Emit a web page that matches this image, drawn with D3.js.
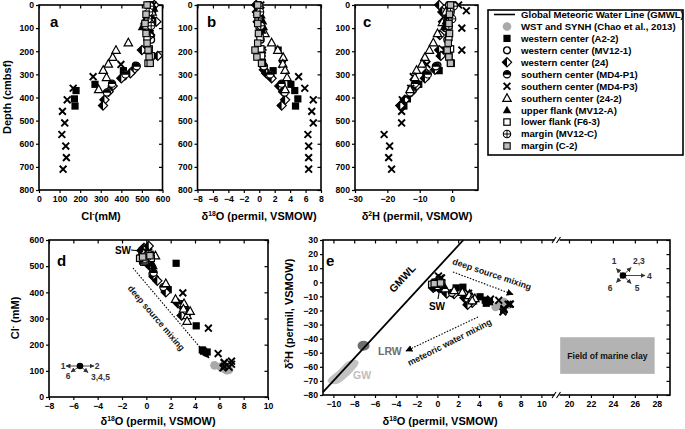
<!DOCTYPE html>
<html><head><meta charset="utf-8">
<script src="https://cdn.jsdelivr.net/npm/d3@7"></script>
<style>
body{margin:0;background:#fff}
svg text{font-family:"Liberation Sans",Arial,sans-serif;font-weight:bold}
</style></head><body>
<svg id="chart" width="685" height="429"></svg>
<script>
// ---- DATA: rows are [depth (cmbsf), Cl- (mM), d18O (permil), d2H (permil)] ----
const GMWL_D18O = [-11, 2.5];
const GMWL_D2H = [-78, 30];
const WST_SYNH = [[null,121,5.6,-17.5],[null,115,6.1,-15],[null,108,6.4,-14],[null,102,6.6,-15.5],[null,104,6.8,-16]];
const A2_2 = [[195,511,2.45,-3.5],[250,540,0.4,-0.5],[284,410,1.8,-4.0],[343,272,4.1,-10.3],[370,180,4.6,-12.7],[406,172,5.0,-13.8],[437,175,4.7,-14.9]];
const MV12_1 = [[0,545,-0.1,-1.0],[50,540,0.0,-1.5],[100,530,0.1,-2.0],[150,545,0.2,-1.5],[262,470,0.5,-4.5],[310,410,1.5,-8.0]];
const W_24 = [[0,560,-0.4,-4.0],[30,545,-0.3,-3.0],[72,570,-0.2,-2.8],[130,540,0.1,-3.8],[195,500,0.3,-4.0],[220,577,0.2,-3.5],[280,460,0.6,-5.3],[295,444,0.9,-8.0],[317,400,1.6,-8.4],[350,358,2.6,-11.0],[375,338,3.1,-12.5],[410,318,3.35,-14.6],[435,311,2.9,-16.0]];
const MD4_P1 = [[20,550,0.0,-0.5],[60,545,0.1,-1.0],[265,475,0.6,-5.0],[300,420,1.4,-7.5],[340,355,2.9,-11.5],[378,330,3.3,-13.0]];
const MD4_P3 = [[0,555,0.2,2.0],[25,548,0.1,4.4],[100,540,0.3,3.0],[195,535,0.4,3.0],[257,398,3.0,-7.8],[310,263,5.1,-12.0],[360,166,5.9,-12.8],[410,137,7.0,-15.4],[460,114,6.8,-15.6],[510,125,7.0,-15.6],[560,111,6.3,-21.0],[610,130,6.4,-19.3],[660,133,6.4,-19.6],[710,117,6.4,-18.7]];
const S_24_2 = [[30,550,-0.2,-2.0],[75,545,0.1,-3.0],[123,540,0.75,-4.5],[163,434,1.6,-5.8],[195,374,2.4,-7.0],[226,358,3.1,-8.4],[255,337,3.05,-9.3],[282,312,3.35,-11.0],[313,328,3.6,-11.5],[365,290,3.35,-13.0]];
const MV12_A = [[15,560,0.1,-0.5],[45,525,0.3,-1.5],[70,510,0.5,-2.0],[95,500,0.6,-2.5],[110,540,0.4,-1.0]];
const F6_3 = [[0,535,-0.2,0.0],[40,530,-0.1,-0.5],[90,520,0.0,-1.0],[140,525,0.1,-1.0],[190,535,0.2,-0.5],[220,545,0.3,-1.0],[252,530,0.4,-0.3]];
const MV12_C = [[5,540,0.0,0.5],[30,535,0.1,-0.5],[60,530,-0.1,0.0],[90,545,0.2,-1.0]];
const C_2 = [[0,525,-0.2,-0.5],[40,520,-0.3,-0.8],[80,515,-0.2,-1.0],[123,520,-0.1,-0.8],[165,525,-0.2,-1.2],[195,530,-0.55,-1.5],[225,535,-0.3,-1.0],[252,540,0.3,-0.5]];
const LEGEND_LABELS = ["Global Meteoric Water Line (GMWL)","WST and SYNH (Chao et al., 2013)","western center (A2-2)","western center (MV12-1)","western center (24)","southern center (MD4-P1)","southern center (MD4-P3)","southern center (24-2)","upper flank (MV12-A)","lower flank (F6-3)","margin (MV12-C)","margin (C-2)"];
const LRW_CENTER = [-7.1, -45];
const GW_OUTLINE = [[-10.5,-71],[-9.6,-72],[-8.5,-66],[-7.6,-58],[-7.9,-55],[-8.7,-56.5],[-9.6,-63],[-10.4,-68]];
const CLAY_FIELD = {x:[19.2,27.8], y:[-39,-65]};
const DEPTH_TICKS = [0,100,200,300,400,500,600,700,800];
const CL_TICKS = [0,100,200,300,400,500,600];
const D18O_TICKS_B = [-8,-6,-4,-2,0,2,4,6,8];
const D2H_TICKS_C = [-30,-20,-10,0];
const D18O_TICKS_D = [-8,-6,-4,-2,0,2,4,6,8,10];
const D18O_TICKS_E1 = [-10,-8,-6,-4,-2,0,2,4,6,8,10];
const D18O_TICKS_E2 = [20,22,24,26,28];
const D2H_TICKS_E = [-80,-70,-60,-50,-40,-30,-20,-10,0,10,20,30];

const SERIES = [
  {data:WST_SYNH, sym:'greyCircle'},
  {data:A2_2, sym:'filledSquare'},
  {data:MV12_1, sym:'openCircle'},
  {data:W_24, sym:'halfDiamond'},
  {data:MD4_P1, sym:'halfCircle'},
  {data:MD4_P3, sym:'cross'},
  {data:S_24_2, sym:'openTriangle'},
  {data:MV12_A, sym:'filledTriangle'},
  {data:F6_3, sym:'openSquare'},
  {data:MV12_C, sym:'circlePlus'},
  {data:C_2, sym:'greySquare'}
];

const svg = d3.select('#chart');
const defs = svg.append('defs');
defs.append('marker').attr('id','ah').attr('viewBox','0 0 10 10').attr('refX',9).attr('refY',5)
  .attr('markerWidth',7).attr('markerHeight',7).attr('orient','auto').attr('markerUnits','userSpaceOnUse')
  .append('path').attr('d','M0,0L10,5L0,10Z').attr('fill','#000');
defs.append('marker').attr('id','ahs').attr('viewBox','0 0 10 10').attr('refX',9).attr('refY',5)
  .attr('markerWidth',5).attr('markerHeight',5).attr('orient','auto').attr('markerUnits','userSpaceOnUse')
  .append('path').attr('d','M0,0L10,5L0,10Z').attr('fill','#333');

function drawSymbol(g, type, x, y){
  const k = g.append('g').attr('transform',`translate(${x},${y})`);
  switch(type){
    case 'greyCircle': k.append('circle').attr('r',4.3).attr('fill','#a9a9a9'); break;
    case 'filledSquare': k.append('rect').attr('x',-3.6).attr('y',-3.6).attr('width',7.2).attr('height',7.2).attr('fill','#000'); break;
    case 'openCircle': k.append('circle').attr('r',3.4).attr('fill','#fff').attr('stroke','#000').attr('stroke-width',1.3); break;
    case 'halfDiamond':
      k.append('path').attr('d','M0,-4.6L4.6,0L0,4.6L-4.6,0Z').attr('fill','#fff').attr('stroke','#000').attr('stroke-width',1.2);
      k.append('path').attr('d','M0,-4.6L-4.6,0L0,4.6Z').attr('fill','#000'); break;
    case 'halfCircle':
      k.append('circle').attr('r',3.6).attr('fill','#fff').attr('stroke','#000').attr('stroke-width',1.2);
      k.append('path').attr('d','M-3.6,0.4A3.6,3.6 0 0 1 3.6,0.4Z').attr('fill','#000'); break;
    case 'cross': k.append('path').attr('d','M-3.4,-3.4L3.4,3.4M-3.4,3.4L3.4,-3.4').attr('stroke','#000').attr('stroke-width',1.9); break;
    case 'openTriangle': k.append('path').attr('d','M0,-4.4L4.2,3.2L-4.2,3.2Z').attr('fill','#fff').attr('stroke','#000').attr('stroke-width',1.2); break;
    case 'filledTriangle': k.append('path').attr('d','M0,-4.4L4.2,3.2L-4.2,3.2Z').attr('fill','#000'); break;
    case 'openSquare': k.append('rect').attr('x',-3.2).attr('y',-3.2).attr('width',6.4).attr('height',6.4).attr('fill','#fff').attr('stroke','#000').attr('stroke-width',1.2); break;
    case 'circlePlus':
      k.append('circle').attr('r',3.7).attr('fill','#fff').attr('stroke','#000').attr('stroke-width',1.1);
      k.append('path').attr('d','M-3.7,0H3.7M0,-3.7V3.7').attr('stroke','#000').attr('stroke-width',1); break;
    case 'greySquare': k.append('rect').attr('x',-3.2).attr('y',-3.2).attr('width',6.4).attr('height',6.4).attr('fill','#bdbdbd').attr('stroke','#000').attr('stroke-width',1.1); break;
  }
}

function styleAxis(sel, fs){
  sel.select('.domain').remove();
  sel.selectAll('line').attr('stroke','#000').attr('stroke-width',1.2);
  sel.selectAll('text').attr('font-size',fs||8.7).attr('font-weight','bold').attr('fill','#000')
    .attr('font-family','"Liberation Sans",Arial,sans-serif');
}
function frame(x0,x1,y0,y1){
  svg.append('rect').attr('x',x0).attr('y',y0).attr('width',x1-x0).attr('height',y1-y0)
    .attr('fill','none').attr('stroke','#000').attr('stroke-width',1.6);
}
function stdAxes(xs, ys, xt, yt){
  const [x0,x1] = xs.range();
  svg.append('g').attr('transform',`translate(0,${Math.max(...ys.range())})`)
    .call(d3.axisBottom(xs).tickValues(xt).tickSize(3).tickPadding(3)).call(styleAxis);
  svg.append('g').attr('transform',`translate(0,${Math.min(...ys.range())})`)
    .call(d3.axisTop(xs).tickValues(xt).tickSize(-3.5).tickFormat('')).call(styleAxis);
  svg.append('g').attr('transform',`translate(${x0},0)`)
    .call(d3.axisLeft(ys).tickValues(yt).tickSize(3).tickPadding(2).tickFormat(d3.format('d'))).call(styleAxis);
  svg.append('g').attr('transform',`translate(${x1},0)`)
    .call(d3.axisRight(ys).tickValues(yt).tickSize(-3.5).tickFormat('')).call(styleAxis);
}

// ---- scales ----
const yDepth = d3.scaleLinear().domain([0,800]).range([5,190]);
const xA = d3.scaleLinear().domain([0,600]).range([39,162.5]);
const xB = d3.scaleLinear().domain([-8,8]).range([197.5,321]);
const xC = d3.scaleLinear().domain([-30,8]).range([355,478]);
const xD = d3.scaleLinear().domain([-8,10]).range([49,268]);
const yD = d3.scaleLinear().domain([0,600]).range([397,240]);
const xE1 = d3.scaleLinear().domain([-11,11.5]).range([323,557]);
const xE2 = d3.scaleLinear().domain([19,29.2]).range([558,670]);
const yE = d3.scaleLinear().domain([-80,30]).range([395,240]);
const xE = v => v < 15 ? xE1(v) : xE2(v);

// ---- panels a,b,c ----
[[xA,CL_TICKS],[xB,D18O_TICKS_B],[xC,D2H_TICKS_C]].forEach(([xs,xt])=>stdAxes(xs, yDepth, xt, DEPTH_TICKS));
frame(39,162.5,5,190); frame(197.5,321,5,190); frame(355,478,5,190);

function plotSeries(g, xi, yi, xs, ys){
  SERIES.forEach(s=>{
    s.data.forEach(r=>{
      if(r[xi]==null||r[yi]==null) return;
      drawSymbol(g, s.sym, xs(r[xi]), ys(r[yi]));
    });
  });
}
plotSeries(svg.append('g'),1,0,xA,yDepth);
plotSeries(svg.append('g'),2,0,xB,yDepth);
plotSeries(svg.append('g'),3,0,xC,yDepth);

function letter(t,x,y){ svg.append('text').attr('x',x).attr('y',y).attr('font-size',15).text(t); }
letter('a',50,27); letter('b',207,27); letter('c',363,27); letter('d',57,266); letter('e',326,266);

function xTitle(x,y,parts,fs){
  const t = svg.append('text').attr('x',x).attr('y',y).attr('text-anchor','middle').attr('font-size',fs||11);
  parts.forEach(p=>{
    const ts = t.append('tspan').text(p[0]);
    if(p[1]==='sup') ts.attr('font-size',(fs||11)*0.62).attr('dy',-4);
    else if(p[1]==='after') ts.attr('dy',4);
  });
  return t;
}
xTitle(101,220,[['Cl'],['-','sup'],['(mM)','after']]);
xTitle(259,220,[['δ'],['18','sup'],['O (permil, VSMOW)','after']]);
xTitle(417,220,[['δ'],['2','sup'],['H (permil, VSMOW)','after']]);
xTitle(158,425,[['δ'],['18','sup'],['O (permil, VSMOW)','after']]);
xTitle(440,425,[['δ'],['18','sup'],['O (permil, VSMOW)','after']]);
svg.append('text').attr('transform','translate(11,97) rotate(-90)').attr('text-anchor','middle').attr('font-size',11).text('Depth (cmbsf)');
xTitle(0,0,[['Cl'],['-','sup'],[' (mM)','after']]).attr('transform','translate(19,318) rotate(-90)');
xTitle(0,0,[['δ'],['2','sup'],['H (permil, VSMOW)','after']]).attr('transform','translate(293,314) rotate(-90)');

// ---- legend ----
const lg = svg.append('g');
lg.append('rect').attr('x',488).attr('y',10).attr('width',195).attr('height',145).attr('fill','#fff').attr('stroke','#000').attr('stroke-width',1.6);
LEGEND_LABELS.forEach((lab,i)=>{
  const y = 14.5 + i*11.95;
  if(i===0) lg.append('line').attr('x1',494).attr('x2',515).attr('y1',y).attr('y2',y).attr('stroke','#000').attr('stroke-width',1.6);
  else drawSymbol(lg, SERIES[i-1].sym, 507, y);
  lg.append('text').attr('x',521).attr('y',y+3.4).attr('font-size',9.6).text(lab);
});

// ---- panel d ----
stdAxes(xD, yD, D18O_TICKS_D, CL_TICKS);
frame(49,268,240,397);
svg.append('line').attr('x1',133).attr('y1',268).attr('x2',209).attr('y2',358).attr('stroke','#000').attr('stroke-width',1.1)
  .attr('stroke-dasharray','1.5,1.5').attr('marker-end','url(#ah)');
svg.append('text').attr('transform','translate(154,320) rotate(49.5)').attr('text-anchor','middle').attr('font-size',8.8).attr('fill','#111').text('deep source mixing');
plotSeries(svg.append('g'),2,1,xD,yD);
svg.append('text').attr('x',131).attr('y',253.5).attr('text-anchor','end').attr('font-size',10).text('SW');
svg.append('line').attr('x1',131).attr('x2',141).attr('y1',250).attr('y2',251).attr('stroke','#000').attr('stroke-width',1.1);
(function(){
  const cx=80, cy=366, g=svg.append('g');
  [[66,366],[94,366],[71,372],[88,372.5]].forEach(p=>g.append('line').attr('x1',cx).attr('y1',cy).attr('x2',p[0]).attr('y2',p[1]).attr('stroke','#333').attr('stroke-width',0.9).attr('marker-end','url(#ahs)'));
  g.append('circle').attr('cx',cx).attr('cy',cy).attr('r',3.3).attr('fill','#000');
  [['1',63,369,'middle'],['2',97,369,'middle'],['6',68,378.5,'middle'],['3,4,5',91,380,'start']].forEach(d=>
    g.append('text').attr('x',d[1]).attr('y',d[2]).attr('text-anchor',d[3]).attr('font-size',8.5).attr('font-weight','normal').attr('fill','#333').text(d[0]));
})();

// ---- panel e ----
svg.append('g').attr('transform','translate(0,395)').call(d3.axisBottom(xE1).tickValues(D18O_TICKS_E1).tickSize(3).tickPadding(3)).call(styleAxis);
svg.append('g').attr('transform','translate(0,395)').call(d3.axisBottom(xE2).tickValues(D18O_TICKS_E2).tickSize(3).tickPadding(3)).call(styleAxis);
svg.append('g').attr('transform','translate(0,240)').call(d3.axisTop(xE1).tickValues(D18O_TICKS_E1).tickSize(-3.5).tickFormat('')).call(styleAxis);
svg.append('g').attr('transform','translate(0,240)').call(d3.axisTop(xE2).tickValues(D18O_TICKS_E2).tickSize(-3.5).tickFormat('')).call(styleAxis);
svg.append('g').attr('transform','translate(323,0)').call(d3.axisLeft(yE).tickValues(D2H_TICKS_E).tickSize(3).tickPadding(2)).call(styleAxis);
svg.append('g').attr('transform','translate(670,0)').call(d3.axisRight(yE).tickValues(D2H_TICKS_E).tickSize(-3.5).tickFormat('')).call(styleAxis);
frame(323,670,240,395);
[240,395].forEach(y=>{
  svg.append('rect').attr('x',554.5).attr('y',y-2).attr('width',5).attr('height',4).attr('fill','#fff');
  svg.append('path').attr('d',`M552,${y+3}L556,${y-3}M556.5,${y+3}L560.5,${y-3}`).attr('stroke','#000').attr('stroke-width',1.1);
});
svg.append('rect').attr('x',xE(CLAY_FIELD.x[0])).attr('y',yE(CLAY_FIELD.y[0]))
  .attr('width',xE(CLAY_FIELD.x[1])-xE(CLAY_FIELD.x[0])).attr('height',yE(CLAY_FIELD.y[1])-yE(CLAY_FIELD.y[0])).attr('fill','#b3b3b3');
svg.append('text').attr('x',(xE(CLAY_FIELD.x[0])+xE(CLAY_FIELD.x[1]))/2).attr('y',(yE(CLAY_FIELD.y[0])+yE(CLAY_FIELD.y[1]))/2+3).attr('text-anchor','middle').attr('font-size',8.6).attr('fill','#111').text('Field of marine clay');
svg.append('path').datum(GW_OUTLINE).attr('d',d3.line().x(d=>xE(d[0])).y(d=>yE(d[1])).curve(d3.curveCardinalClosed)).attr('fill','#c2c2c2');
svg.append('ellipse').attr('cx',xE(LRW_CENTER[0])).attr('cy',yE(LRW_CENTER[1])).attr('rx',6).attr('ry',5).attr('fill','#6e6e6e');
svg.append('line').attr('x1',xE(GMWL_D18O[0])).attr('y1',yE(GMWL_D2H[0])).attr('x2',xE(GMWL_D18O[1])).attr('y2',yE(GMWL_D2H[1])).attr('stroke','#000').attr('stroke-width',1.8);
svg.append('text').attr('transform','translate(405,281) rotate(-47)').attr('text-anchor','middle').attr('font-size',10.5).text('GMWL');
svg.append('text').attr('x',378).attr('y',355).attr('font-size',10.5).attr('fill','#6e6e6e').text('LRW');
svg.append('text').attr('x',353).attr('y',379).attr('font-size',10.5).attr('fill','#bdbdbd').text('GW');
svg.append('line').attr('x1',453).attr('y1',272).attr('x2',513).attr('y2',294.5).attr('stroke','#000').attr('stroke-width',1.1)
  .attr('stroke-dasharray','1.5,1.5').attr('marker-end','url(#ah)');
svg.append('text').attr('transform','translate(491,277) rotate(18.5)').attr('text-anchor','middle').attr('font-size',8.8).attr('fill','#111').text('deep source mixing');
svg.append('line').attr('x1',478).attr('y1',317).attr('x2',406).attr('y2',351).attr('stroke','#000').attr('stroke-width',1.1)
  .attr('stroke-dasharray','1.5,1.5').attr('marker-end','url(#ah)');
svg.append('text').attr('transform','translate(451,345) rotate(-27)').attr('text-anchor','middle').attr('font-size',8.8).attr('fill','#111').text('meteoric water mixing');
plotSeries(svg.append('g'),2,3,xE,yE);
svg.append('text').attr('x',437).attr('y',310).attr('text-anchor','middle').attr('font-size',10).text('SW');
svg.append('line').attr('x1',438).attr('x2',439.5).attr('y1',299).attr('y2',290).attr('stroke','#000').attr('stroke-width',1.1);
(function(){
  const cx=623, cy=275.5, g=svg.append('g');
  [[616.5,268.5],[631,267.5],[645,275.5],[631,283.5],[616.5,282.5]].forEach(p=>g.append('line').attr('x1',cx).attr('y1',cy).attr('x2',p[0]).attr('y2',p[1]).attr('stroke','#333').attr('stroke-width',0.9).attr('marker-end','url(#ahs)'));
  g.append('circle').attr('cx',cx).attr('cy',cy).attr('r',3.3).attr('fill','#000');
  [['1',614,263.5,'middle'],['2,3',633,263.5,'start'],['4',647,278.5,'start'],['5',637,291,'middle'],['6',610,291,'middle']].forEach(d=>
    g.append('text').attr('x',d[1]).attr('y',d[2]).attr('text-anchor',d[3]).attr('font-size',8.5).attr('font-weight','normal').attr('fill','#333').text(d[0]));
})();
</script>
</body></html>
